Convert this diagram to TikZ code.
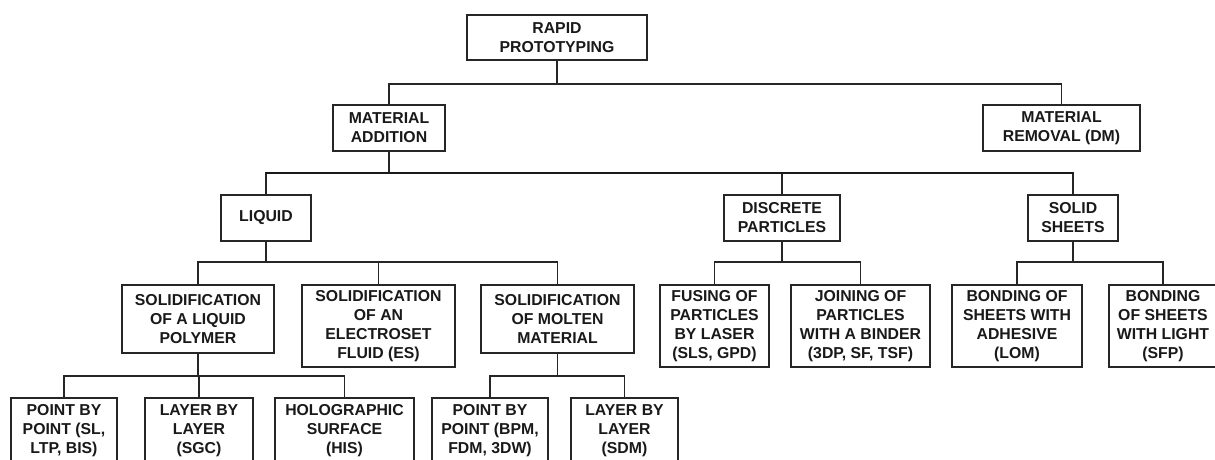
\documentclass[tikz,border=0pt]{standalone}
\usepackage{fontspec}
\setmainfont{Liberation Sans}
\begin{document}
\begin{tikzpicture}[x=1pt,y=-1pt,
  box/.style={draw=black!85,line width=1.4pt,rectangle,inner sep=0pt,align=center,
    font=\bfseries\fontsize{15.8}{19}\selectfont,text=black!90},
  link/.style={draw=black!85,line width=1.4pt},
  bus/.style={draw=black!90,line width=2pt}]
\clip (0,0) rectangle (1215,459);
\useasboundingbox (0,0) rectangle (1215,459);
\fill[white] (0,0) rectangle (1215,459);
% level 0
\node[box,minimum width=180pt,minimum height=45pt] (rp) at (557,37.5) {RAPID\\PROTOTYPING};
% level 1
\node[box,minimum width=112pt,minimum height=46pt] (ma) at (389,128) {MATERIAL\\ADDITION};
\node[box,minimum width=157pt,minimum height=46pt] (mr) at (1061.5,128) {MATERIAL\\REMOVAL (DM)};
% level 2
\node[box,minimum width=90pt,minimum height=46pt] (liq) at (266,218) {LIQUID};
\node[box,minimum width=116pt,minimum height=46pt] (dp) at (782,218) {DISCRETE\\PARTICLES};
\node[box,minimum width=90pt,minimum height=46pt] (ss) at (1073,218) {SOLID\\SHEETS};
% level 3
\node[box,minimum width=152pt,minimum height=68pt] (slp) at (198,319) {SOLIDIFICATION\\OF A LIQUID\\POLYMER};
\node[box,minimum width=153pt,minimum height=82pt] (sef) at (378.5,326) {SOLIDIFICATION\\OF AN\\ELECTROSET\\FLUID (ES)};
\node[box,minimum width=153pt,minimum height=68pt] (smm) at (557.5,319) {SOLIDIFICATION\\OF MOLTEN\\MATERIAL};
\node[box,minimum width=109pt,minimum height=82pt] (fp) at (714.5,326) {FUSING OF\\PARTICLES\\BY LASER\\(SLS, GPD)};
\node[box,minimum width=139pt,minimum height=82pt] (jp) at (860.5,326) {JOINING OF\\PARTICLES\\WITH A BINDER\\(3DP, SF, TSF)};
\node[box,minimum width=130pt,minimum height=82pt] (ba) at (1017,326) {BONDING OF\\SHEETS WITH\\ADHESIVE\\(LOM)};
\node[box,minimum width=108pt,minimum height=82pt] (bl) at (1163,326) {BONDING\\OF SHEETS\\WITH LIGHT\\(SFP)};
% level 4
\node[box,minimum width=106pt,minimum height=66pt] (pbp1) at (64,431) {POINT BY\\POINT (SL,\\LTP, BIS)};
\node[box,minimum width=108pt,minimum height=66pt] (lbl1) at (199,431) {LAYER BY\\LAYER\\(SGC)};
\node[box,minimum width=139pt,minimum height=66pt] (hs) at (344.5,431) {HOLOGRAPHIC\\SURFACE\\(HIS)};
\node[box,minimum width=116pt,minimum height=66pt] (pbp2) at (490,431) {POINT BY\\POINT (BPM,\\FDM, 3DW)};
\node[box,minimum width=107pt,minimum height=66pt] (lbl2) at (624.5,431) {LAYER BY\\LAYER\\(SDM)};
% bus levels
\coordinate (b1) at (0,84);
\coordinate (b2) at (0,173);
\coordinate (b3) at (0,262);
\coordinate (b4) at (0,376);
% connectors
\foreach \p/\c/\b in {rp/ma/b1, rp/mr/b1, ma/liq/b2, ma/dp/b2, ma/ss/b2,
  liq/slp/b3, liq/sef/b3, liq/smm/b3, dp/fp/b3, dp/jp/b3, ss/ba/b3, ss/bl/b3,
  slp/pbp1/b4, slp/lbl1/b4, slp/hs/b4, smm/pbp2/b4, smm/lbl2/b4}
  \draw[link] (\p.south) -- (\p.south |- \b) -| (\c.north);
\draw[bus] (liq.north |- b2) -- (ss.north |- b2);
\end{tikzpicture}
\end{document}
